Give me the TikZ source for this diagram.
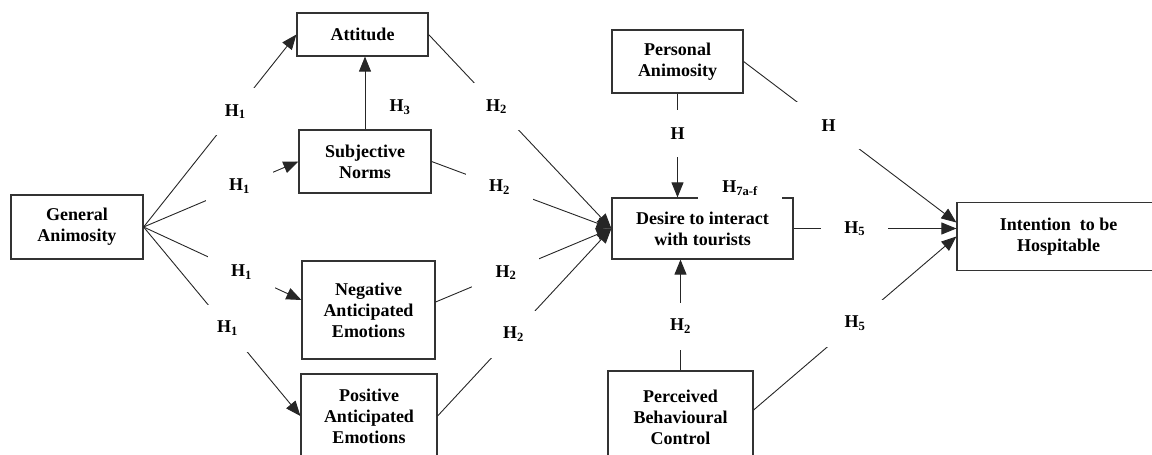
\documentclass[tikz,border=0pt]{standalone}
\usepackage{fontspec}
\setmainfont{Liberation Serif}
\usetikzlibrary{arrows.meta}

\tikzset{
  box/.style={draw=black!80, line width=1.2pt, align=center, inner sep=2pt},
  hyp/.style={fill=white, minimum width=67pt, minimum height=47pt, inner sep=0pt},
  link/.style={->, line width=0.9pt, draw=black!85},
  >={Triangle[length=15pt,width=12pt]}
}

\begin{document}
\begin{tikzpicture}[x=1pt, y=-1pt, font=\fontsize{18}{21}\selectfont\bfseries]
  \useasboundingbox (0,0) rectangle (1152,455);

  % Constructs
  \node[box, minimum width=132pt, minimum height=64pt] (GA) at (77,227) {General\\Animosity};
  \node[box, minimum width=131pt, minimum height=43pt] (Att) at (362.5,34.5) {Attitude};
  \node[box, minimum width=132pt, minimum height=63pt] (SN) at (365,161.5) {Subjective\\Norms};
  \node[box, minimum width=133pt, minimum height=98pt] (Neg) at (368.5,310) {Negative\\Anticipated\\Emotions};
  \node[box, minimum width=136pt, minimum height=84pt] (Pos) at (369,416) {Positive\\Anticipated\\Emotions};
  \node[box, minimum width=131pt, minimum height=63pt] (Pers) at (677.5,61.5) {Personal\\Animosity};
  \node[box, minimum width=181pt, minimum height=61pt] (Des) at (702.5,228.5) {Desire to interact\\with tourists};
  \node[box, minimum width=145pt, minimum height=92pt] (PBC) at (680.5,417) {Perceived\\Behavioural\\Control};
  \node[box, minimum width=203pt, minimum height=68pt] (Int) at (1058.5,236.5) {Intention\ \ to be\\Hospitable};

  % General animosity paths
  \draw[link] (GA.east) -- node[hyp, pos=0.6] (h1a) {H\textsubscript{1}} (Att.west);
  \draw[link] (GA.east) -- node[hyp, pos=0.62] (h1b) {H\textsubscript{1}} (SN.west);
  \draw[link] (GA.east) -- node[hyp, pos=0.62] (h1c) {H\textsubscript{1}} ([yshift=10pt]Neg.west);
  \draw[link] (GA.east) -- node[hyp, pos=0.535] (h1d) {H\textsubscript{1}} (Pos.west);

  % Norms to attitude
  \draw[link] (SN.north) -- (SN.north |- Att.south);
  \node (h3) at (400,107) {H\textsubscript{3}};

  % Paths into desire
  \draw[link] (Att.east) -- node[hyp, pos=0.372] (h2a) {H\textsubscript{2}} (Des.west);
  \draw[link] (SN.east) -- node[hyp, pos=0.378] (h2b) {H\textsubscript{2}} (Des.west);
  \draw[link] ([yshift=8pt]Neg.east) -- node[hyp, pos=0.4] (h2c) {H\textsubscript{2}} (Des.west);
  \draw[link] (Pos.east) -- node[hyp, pos=0.437] (h2d) {H\textsubscript{2}} (Des.west);
  \draw[link] (Pers.south) -- node[hyp, pos=0.386] (h6) {H} (Pers.south |- Des.north);
  \draw[link] (PBC.north) -- node[hyp, pos=0.4] (h2e) {H\textsubscript{2}} (PBC.north |- Des.south);
  \node[fill=white, minimum width=84pt, minimum height=26pt, inner sep=0pt] (h7) at (740,188) {H\textsubscript{7a-f}};

  % Paths into intention
  \draw[link] (Pers.east) -- node[hyp, pos=0.4] (h4) {H} ([yshift=14pt]Int.west);
  \draw[link] (Des.east) -- node[hyp, pos=0.375] (h5a) {H\textsubscript{5}} (Des.east -| Int.west);
  \draw[link] ([yshift=7pt]PBC.east) -- node[hyp, pos=0.5] (h5b) {H\textsubscript{5}} (Int.west);
\end{tikzpicture}
\end{document}
